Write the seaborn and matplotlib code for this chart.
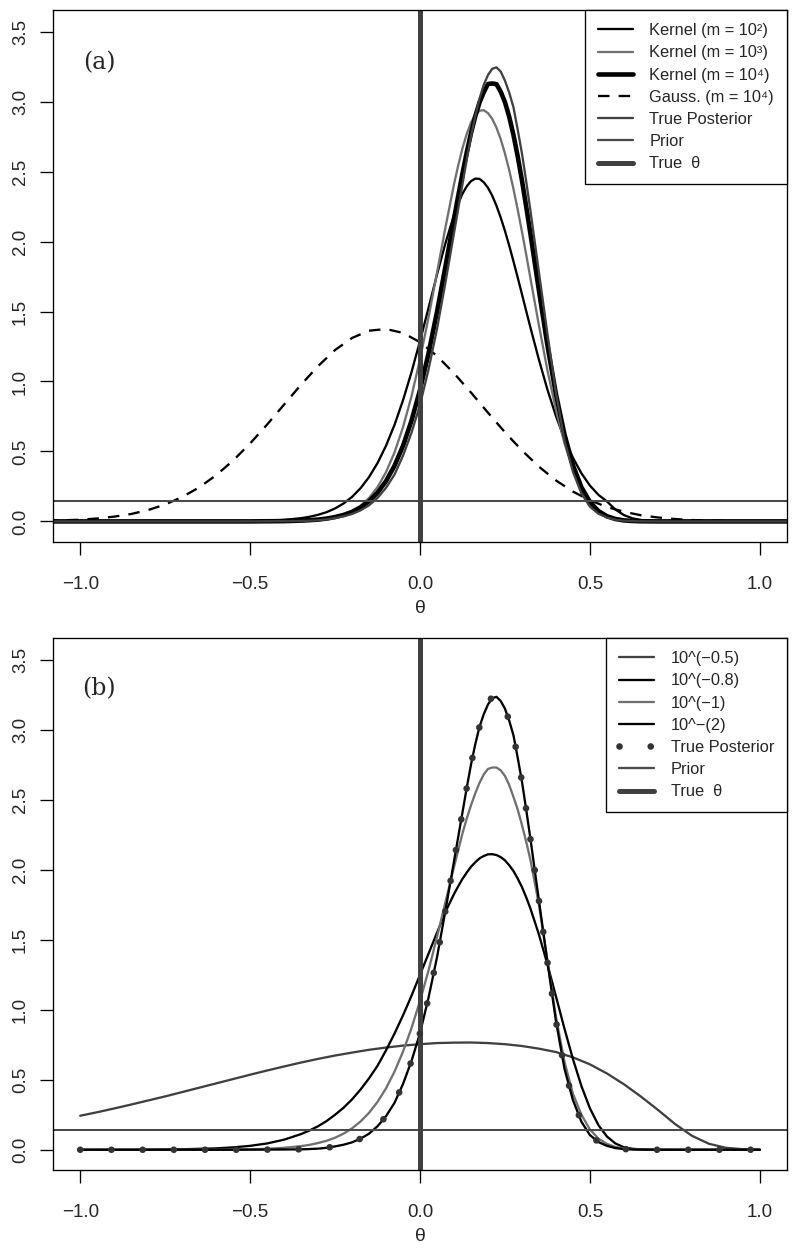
import matplotlib
matplotlib.use("Agg")
import numpy as np
import seaborn as sb
import matplotlib.pyplot as plt
from matplotlib.lines import Line2D

# theta grid for the narrow curves (finer around the peak)
theta_core = [-1.0, -0.9, -0.8, -0.7, -0.6, -0.55, -0.5, -0.45, -0.4,
              -0.35, -0.325, -0.3, -0.275, -0.25, -0.225, -0.2, -0.175, -0.15, -0.125,
              -0.1, -0.075, -0.05, -0.025, 0.0, 0.025, 0.05, 0.075,
              0.1, 0.1125, 0.125, 0.1375, 0.15, 0.1625, 0.175, 0.1875, 0.2, 0.2125,
              0.225, 0.2375, 0.25, 0.2625, 0.275, 0.2875, 0.3, 0.3125, 0.325,
              0.35, 0.375, 0.4, 0.425, 0.45, 0.475, 0.5, 0.525, 0.55, 0.575, 0.6, 0.625, 0.65,
              0.7, 0.75, 0.8, 0.9, 1.0]

# theta grid for the wide curves
theta_wide = [-1.0, -0.95, -0.9, -0.85, -0.8, -0.75, -0.7, -0.65, -0.6, -0.55,
              -0.5, -0.45, -0.4, -0.35, -0.3, -0.25, -0.2, -0.15, -0.1, -0.05,
              0.0, 0.05, 0.1, 0.15, 0.2, 0.25, 0.3, 0.35, 0.4, 0.45,
              0.5, 0.55, 0.6, 0.65, 0.7, 0.75, 0.8, 0.85, 0.9, 0.95, 1.0]

# panel (a)
kern_m2 = [0, 0, 0, 0, 0, 0.001, 0.002, 0.005, 0.011,
           0.023, 0.033, 0.047, 0.066, 0.0925, 0.128, 0.175, 0.237, 0.317, 0.417,
           0.541, 0.690, 0.866, 1.067, 1.289, 1.525, 1.764, 1.990,
           2.189, 2.272, 2.342, 2.395, 2.432, 2.45, 2.448, 2.424, 2.384, 2.328,
           2.256, 2.171, 2.076, 1.971, 1.859, 1.743, 1.624, 1.504, 1.385,
           1.155, 0.942, 0.753, 0.590, 0.455, 0.344, 0.256, 0.190, 0.143, 0.085, 0.045, 0.022, 0.010,
           0.002, 0, 0, 0, 0]
kern_m3 = [0, 0, 0, 0, 0, 0, 0, 0.0004, 0.0013,
           0.004, 0.0065, 0.011, 0.018, 0.029, 0.046, 0.073, 0.111, 0.167, 0.245,
           0.352, 0.493, 0.673, 0.895, 1.159, 1.457, 1.778, 2.103,
           2.409, 2.545, 2.667, 2.769, 2.850, 2.906, 2.935, 2.939, 2.918, 2.877,
           2.814, 2.732, 2.629, 2.510, 2.376, 2.229, 2.071, 1.907, 1.737,
           1.400, 1.080, 0.797, 0.560, 0.373, 0.236, 0.140, 0.078, 0.041, 0.020, 0.009, 0.004, 0.0015,
           0.0002, 0, 0, 0, 0]
kern_m4 = [0, 0, 0, 0, 0, 0, 0, 0.001, 0.002,
           0.0055, 0.0085, 0.013, 0.020, 0.031, 0.046, 0.068, 0.100, 0.144, 0.205,
           0.288, 0.398, 0.540, 0.720, 0.940, 1.200, 1.498, 1.824,
           2.161, 2.327, 2.487, 2.637, 2.774, 2.894, 2.993, 3.067, 3.126, 3.13,
           3.125, 3.071, 2.996, 2.892, 2.762, 2.609, 2.437, 2.25, 2.054,
           1.649, 1.258, 0.910, 0.623, 0.402, 0.244, 0.139, 0.074, 0.037, 0.017, 0.007, 0.003, 0.001,
           0, 0, 0, 0, 0]
true_post = [0, 0, 0, 0, 0, 0, 0.0005, 0.001, 0.002,
             0.003, 0.005, 0.008, 0.014, 0.024, 0.036, 0.053, 0.079, 0.115, 0.168,
             0.240, 0.335, 0.47, 0.634, 0.833, 1.085, 1.375, 1.71,
             2.06, 2.235, 2.41, 2.585, 2.75, 2.895, 3.02, 3.12, 3.19, 3.235,
             3.245, 3.215, 3.15, 3.065, 2.96, 2.80, 2.63, 2.43, 2.22,
             1.78, 1.34, 0.92, 0.58, 0.355, 0.20, 0.105, 0.055, 0.028, 0.012, 0.005, 0.002, 0.001,
             0, 0, 0, 0, 0]
theta_gauss = [-1.1] + theta_wide + [1.1]
gauss_m4 = [0.004, 0.012, 0.021, 0.034, 0.053, 0.081, 0.121, 0.174, 0.243, 0.330, 0.435,
            0.557, 0.692, 0.835, 0.977, 1.110, 1.225, 1.311, 1.363, 1.375, 1.347,
            1.281, 1.182, 1.059, 0.921, 0.777, 0.637, 0.507, 0.391, 0.293, 0.213,
            0.151, 0.103, 0.069, 0.044, 0.028, 0.017, 0.010, 0.006, 0.003, 0.002, 0.001,
            0.0]

# panel (b)
h_05 = [0.243, 0.268, 0.295, 0.323, 0.352, 0.381, 0.412, 0.443, 0.474, 0.505,
        0.536, 0.566, 0.595, 0.623, 0.649, 0.673, 0.694, 0.714, 0.730, 0.744,
        0.754, 0.762, 0.765, 0.766, 0.762, 0.754, 0.741, 0.722, 0.698, 0.660,
        0.610, 0.545, 0.468, 0.380, 0.285, 0.185, 0.100, 0.043, 0.014, 0.004, 0.001]
h_08 = [0.0, 0.0005, 0.001, 0.0035, 0.010, 0.017, 0.028, 0.045, 0.072,
        0.112, 0.138, 0.168, 0.205, 0.25, 0.30, 0.36, 0.43, 0.51, 0.60,
        0.71, 0.83, 0.96, 1.10, 1.25, 1.40, 1.55, 1.70,
        1.826, 1.882, 1.935, 1.98, 2.021, 2.053, 2.081, 2.098, 2.11, 2.111,
        2.105, 2.09, 2.067, 2.032, 1.991, 1.937, 1.876, 1.803, 1.723,
        1.537, 1.324, 1.096, 0.866, 0.648, 0.455, 0.296, 0.176, 0.095, 0.045, 0.018, 0.007, 0.0025,
        0.0003, 0, 0, 0, 0]
h_1 = [0, 0, 0, 0, 0.001, 0.002, 0.004, 0.007, 0.014,
       0.026, 0.035, 0.048, 0.064, 0.086, 0.115, 0.153, 0.202, 0.264, 0.342,
       0.439, 0.558, 0.701, 0.869, 1.063, 1.28, 1.52, 1.77,
       2.02, 2.14, 2.26, 2.365, 2.46, 2.545, 2.62, 2.68, 2.72, 2.73,
       2.73, 2.71, 2.67, 2.605, 2.52, 2.43, 2.32, 2.20, 2.07,
       1.75, 1.35, 0.95, 0.63, 0.40, 0.25, 0.145, 0.08, 0.042, 0.02, 0.009, 0.004, 0.002,
       0.001, 0, 0, 0, 0]
h_2 = [0, 0, 0, 0, 0, 0, 0.0005, 0.001, 0.002,
       0.003, 0.005, 0.008, 0.014, 0.024, 0.036, 0.053, 0.079, 0.115, 0.168,
       0.240, 0.335, 0.47, 0.634, 0.833, 1.085, 1.375, 1.71,
       2.06, 2.235, 2.41, 2.585, 2.75, 2.895, 3.02, 3.11, 3.18, 3.225,
       3.235, 3.205, 3.15, 3.065, 2.96, 2.80, 2.63, 2.43, 2.22,
       1.78, 1.34, 0.92, 0.58, 0.355, 0.20, 0.105, 0.055, 0.028, 0.012, 0.005, 0.002, 0.001,
       0, 0, 0, 0, 0]

prior_level = 0.143
true_theta = 0.0

xticks = [-1.0, -0.5, 0.0, 0.5, 1.0]
xtick_labels = ["\u22121.0", "\u22120.5", "0.0", "0.5", "1.0"]
yticks = [0.0, 0.5, 1.0, 1.5, 2.0, 2.5, 3.0, 3.5]
ytick_labels = ["0.0", "0.5", "1.0", "1.5", "2.0", "2.5", "3.0", "3.5"]

labels_a = ["Kernel (m = 10\u00b2)", "Kernel (m = 10\u00b3)", "Kernel (m = 10\u2074)",
            "Gauss. (m = 10\u2074)", "True Posterior", "Prior", "True  \u03b8"]
labels_b = ["10^(\u22120.5)", "10^(\u22120.8)", "10^(\u22121)", "10^\u2212(2)",
            "True Posterior", "Prior", "True  \u03b8"]

sb.set_style("ticks")
plt.rcParams["font.family"] = ["Liberation Sans", "DejaVu Sans"]

THIN = 1.65
THICK = 3.3
VLW = 3.6
GREY = "#707070"
DARK = "#404040"
PRIOR_C = "#4a4a4a"
DOT_C = "#333333"
DOT_LW = 4.8
DOTS = (0, (0.01, 4.67))


def edges(y):
    return [0.0] + list(y) + [0.0]


def curve(ax, x, y, **kw):
    sb.lineplot(x=np.array(x), y=np.array(y), ax=ax, estimator=None,
                sort=False, errorbar=None, **kw)


def style_axes(ax):
    ax.set_xlim(-1.08, 1.08)
    ax.set_ylim(-0.145, 3.655)
    ax.set_xticks(xticks)
    ax.set_xticklabels(xtick_labels)
    ax.set_yticks(yticks)
    ax.set_yticklabels(ytick_labels, rotation=90, va="center")
    ax.tick_params(direction="out", length=9.4, width=0.95, labelsize=13.5, color="black")
    ax.tick_params(axis="x", pad=15)
    ax.tick_params(axis="y", pad=8)
    for s in ax.spines.values():
        s.set_linewidth(0.95)
        s.set_color("black")
    ax.set_xlabel("\u03b8", fontsize=14, labelpad=5)
    ax.set_ylabel("")


def make_legend(ax, handles, labels):
    leg = ax.legend(handles, labels, loc="upper right", borderaxespad=0, fancybox=False,
                    edgecolor="black", framealpha=1, fontsize=11.8, handlelength=2.13,
                    handletextpad=1.0, borderpad=0.8, labelspacing=0.44)
    leg.get_frame().set_linewidth(0.95)


fig = plt.figure(figsize=(7.96, 12.51), dpi=100)
ax_a = fig.add_axes([0.0666, 0.567, 0.9221, 0.425])
ax_b = fig.add_axes([0.0666, 0.0647, 0.9221, 0.4253])

# ---- panel (a)
theta_a = [-1.1] + theta_core + [1.1]
curve(ax_a, theta_a, edges(kern_m2), color="black", linewidth=THIN)
curve(ax_a, theta_a, edges(kern_m3), color=GREY, linewidth=THIN)
curve(ax_a, theta_a, edges(kern_m4), color="black", linewidth=THICK)
curve(ax_a, theta_gauss, gauss_m4, color="black", linewidth=THIN, linestyle=(0, (5, 4)))
curve(ax_a, theta_a, edges(true_post), color=DARK, linewidth=THIN)
ax_a.axhline(prior_level, color=PRIOR_C, linewidth=1.45)
ax_a.axvline(true_theta, color=DARK, linewidth=VLW)
style_axes(ax_a)
ax_a.text(-0.944, 3.28, "(a)", family="DejaVu Serif", fontsize=17, ha="center", va="center")

handles_a = [Line2D([], [], color="black", lw=THIN),
             Line2D([], [], color=GREY, lw=THIN),
             Line2D([], [], color="black", lw=THICK),
             Line2D([], [], color="black", lw=THIN, linestyle=(0, (5, 4))),
             Line2D([], [], color=DARK, lw=THIN),
             Line2D([], [], color=PRIOR_C, lw=THIN),
             Line2D([], [], color=DARK, lw=VLW)]
make_legend(ax_a, handles_a, labels_a)

# ---- panel (b)
curve(ax_b, theta_wide, h_05, color=DARK, linewidth=THIN)
curve(ax_b, theta_core, h_08, color="black", linewidth=THIN)
curve(ax_b, theta_core, h_1, color=GREY, linewidth=THIN)
curve(ax_b, theta_core, h_2, color="black", linewidth=THIN)
ax_b.axhline(prior_level, color=PRIOR_C, linewidth=1.45)
ax_b.axvline(true_theta, color=DARK, linewidth=VLW)
curve(ax_b, theta_core, true_post, color=DOT_C, linewidth=DOT_LW, linestyle=DOTS,
      dash_capstyle="round")
style_axes(ax_b)
ax_b.text(-0.944, 3.29, "(b)", family="DejaVu Serif", fontsize=17, ha="center", va="center")

handles_b = [Line2D([], [], color=DARK, lw=THIN),
             Line2D([], [], color="black", lw=THIN),
             Line2D([], [], color=GREY, lw=THIN),
             Line2D([], [], color="black", lw=THIN),
             Line2D([], [], color=DOT_C, lw=DOT_LW, linestyle=DOTS, dash_capstyle="round"),
             Line2D([], [], color=PRIOR_C, lw=THIN),
             Line2D([], [], color=DARK, lw=VLW)]
make_legend(ax_b, handles_b, labels_b)

fig.savefig("out.png", dpi=100)
